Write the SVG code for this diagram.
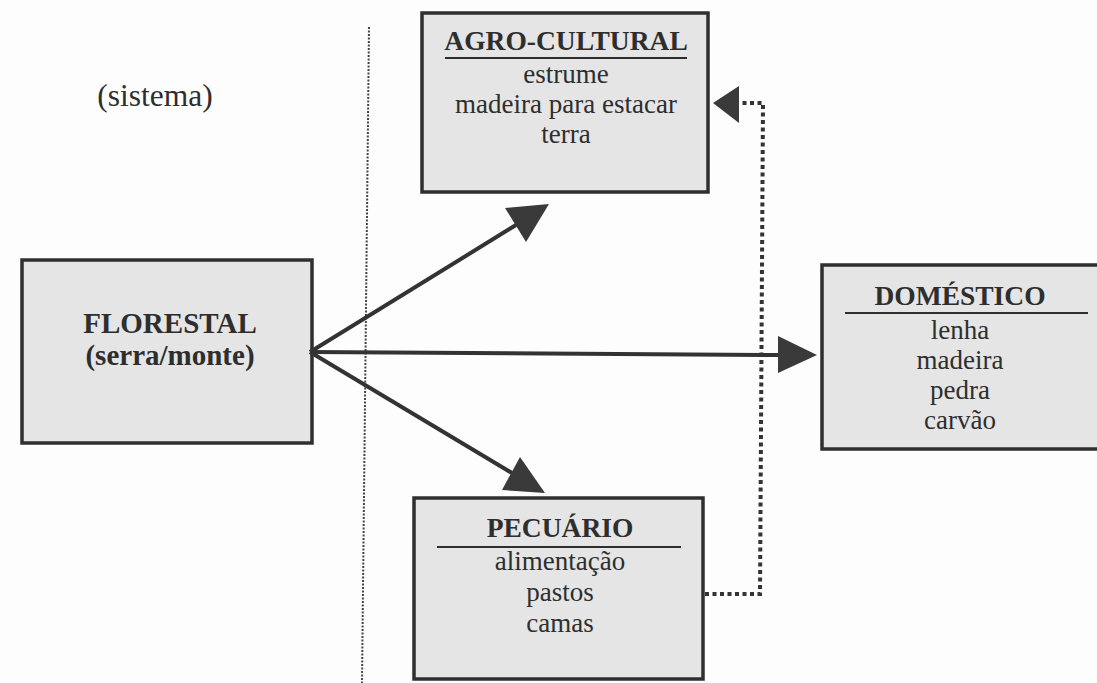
<svg xmlns="http://www.w3.org/2000/svg" width="1097" height="683" viewBox="0 0 1097 683" font-family="'Liberation Serif', 'DejaVu Serif', serif">
<style>
.box{fill:#e5e5e5;stroke:#2f2f2f;stroke-width:3.5}
.t{fill:#2e2e2e;text-anchor:middle;font-size:27px}
.b{font-weight:bold;font-size:27.5px}
.ul{stroke:#2e2e2e;stroke-width:2}
.ln{stroke:#333;stroke-width:4;fill:none}
.hd{fill:#3a3a3a}
.dot{stroke:#333;stroke-width:4;fill:none;stroke-dasharray:4 3.5}
.div{stroke:#444;stroke-width:2;stroke-dasharray:2 1.5;fill:none}
</style>
<rect width="1097" height="683" fill="#fdfdfd"/>
<g id="label-sistema">
<text class="t" x="155" y="106" font-family="Liberation Serif" style="font-size:31.5px">(sistema)</text>
</g>
<g id="divider">
<line class="div" x1="369" y1="27" x2="362" y2="683"/>
</g>
<g id="node-florestal">
<rect class="box" x="22" y="260" width="290" height="183"/>
<text class="t b" x="170" y="333" font-family="Liberation Serif" style="font-size:29px">FLORESTAL</text>
<text class="t b" x="170" y="365" font-family="Liberation Serif" style="font-size:29px">(serra/monte)</text>
</g>
<g id="node-agro" font-family="Liberation Serif">
<rect class="box" x="422" y="13" width="286" height="179"/>
<text class="t b" x="566" y="50">AGRO-CULTURAL</text>
<line class="ul" x1="445" y1="58" x2="687" y2="58"/>
<text class="t" x="566" y="83">estrume</text>
<text class="t" x="566" y="113">madeira para estacar</text>
<text class="t" x="566" y="143">terra</text>
</g>
<g id="node-pecuario" font-family="Liberation Serif">
<rect class="box" x="414" y="498" width="289" height="181"/>
<text class="t b" x="560" y="537">PECUÁRIO</text>
<line class="ul" x1="437" y1="547" x2="681" y2="547"/>
<text class="t" x="560" y="570">alimentação</text>
<text class="t" x="560" y="601">pastos</text>
<text class="t" x="560" y="632">camas</text>
</g>
<g id="node-domestico" font-family="Liberation Serif">
<rect class="box" x="822" y="265" width="290" height="184"/>
<text class="t b" x="960" y="305">DOMÉSTICO</text>
<line class="ul" x1="845" y1="313" x2="1088" y2="313"/>
<text class="t" x="960" y="339">lenha</text>
<text class="t" x="960" y="369">madeira</text>
<text class="t" x="960" y="399">pedra</text>
<text class="t" x="960" y="429">carvão</text>
</g>
<g id="connectors">
<line class="ln" x1="310" y1="352" x2="516" y2="225"/>
<polygon class="hd" points="549,204 505,208 526,242"/>
<line class="ln" x1="310" y1="352" x2="780" y2="355"/>
<polygon class="hd" points="778,336 817,355 778,373"/>
<line class="ln" x1="310" y1="352" x2="512" y2="473"/>
<polygon class="hd" points="545,493 502,490 520,457"/>
<path class="dot" d="M705,594 H760 L763,103 H739"/>
<polygon class="hd" points="713,103 739,86 739,123"/>
</g>
</svg>
